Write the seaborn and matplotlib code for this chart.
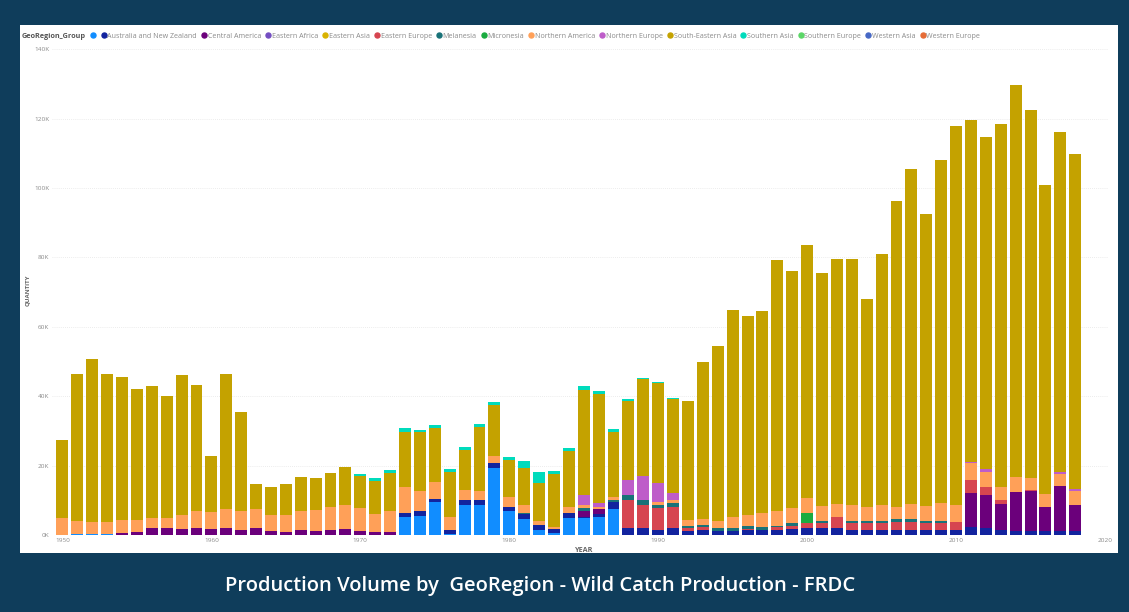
import numpy as np
import pandas as pd
import matplotlib
matplotlib.use("Agg")
import matplotlib.pyplot as plt
from matplotlib.patches import Rectangle
from matplotlib.lines import Line2D
import seaborn as sns

years = list(range(1950, 2019))

regions = ["", "Australia and New Zealand", "Central America", "Eastern Africa", "Eastern Asia",
           "Eastern Europe", "Melanesia", "Micronesia", "Northern America", "Northern Europe",
           "South-Eastern Asia", "Southern Asia", "Southern Europe", "Western Asia", "Western Europe"]

colors = ["#118DFF", "#12239E", "#6B007B", "#744EC2", "#D9B300",
          "#D64550", "#197278", "#1AAB40", "#FFA058", "#BE5DC9",
          "#C4A200", "#00DBBC", "#5BD667", "#4668C5", "#E66C37"]

# values in thousands (K), one entry per year 1950..2018
blank = [0, 0.3, 0.3, 0.3, 0, 0, 0, 0, 0, 0,
         0, 0, 0, 0, 0, 0, 0, 0, 0, 0,
         0, 0, 0, 5.3, 5.6, 9.5, 0.3, 8.6, 8.6, 19.2,
         6.8, 4.5, 1.4, 0.5, 4.8, 4.9, 5.3, 7.5, 0, 0,
         0, 0, 0, 0, 0, 0, 0, 0, 0, 0,
         0, 0, 0, 0, 0, 0, 0, 0, 0, 0,
         0, 0, 0, 0, 0, 0, 0, 0, 0]
australia = [0, 0, 0, 0, 0, 0, 0, 0, 0, 0,
             0, 0, 0, 0, 0, 0, 0, 0, 0, 0,
             0, 0, 0, 1.1, 1.2, 1.0, 1.1, 1.5, 1.5, 1.5,
             1.4, 1.5, 1.5, 1.1, 1.4, 0.4, 0.8, 2.0, 1.9, 1.9,
             1.4, 1.9, 1.2, 1.4, 1.2, 1.2, 1.4, 1.4, 1.4, 1.6,
             1.9, 1.9, 1.9, 1.4, 1.4, 1.4, 1.4, 1.4, 1.4, 1.4,
             1.4, 2.2, 1.9, 1.4, 1.2, 1.2, 1.2, 1.2, 1.2]
central_america = [0, 0, 0, 0, 0.7, 1.0, 1.9, 1.9, 1.8, 2.0,
                   1.7, 2.1, 1.5, 2.0, 1.2, 1.0, 1.3, 1.1, 1.4, 1.7,
                   1.2, 1.0, 1.0, 0, 0, 0, 0, 0, 0, 0,
                   0, 0, 0, 0, 0, 1.7, 1.3, 0, 0, 0,
                   0, 0, 0, 0, 0, 0, 0, 0, 0, 0,
                   0, 0, 0, 0, 0, 0, 0, 0, 0, 0,
                   0, 9.8, 9.6, 7.5, 11.1, 11.6, 7.0, 12.9, 7.4]
eastern_africa = [0] * 69
eastern_asia = [0] * 69
eastern_europe = [0, 0, 0, 0, 0, 0, 0, 0, 0, 0,
                  0, 0, 0, 0, 0, 0, 0, 0, 0, 0,
                  0, 0, 0, 0, 0, 0, 0, 0, 0, 0,
                  0, 0, 0, 0, 0, 0, 0, 0, 8.3, 6.7,
                  6.3, 6.3, 0.7, 0.8, 0, 0, 0.4, 0, 1.0, 1.0,
                  1.7, 1.7, 3.2, 2.0, 2.2, 2.2, 2.4, 2.4, 2.2, 2.2,
                  2.4, 3.8, 2.2, 1.2, 0.2, 0.2, 0, 0, 0]
melanesia = [0, 0, 0, 0, 0, 0, 0, 0, 0, 0,
             0, 0, 0, 0, 0, 0, 0, 0, 0, 0,
             0, 0, 0, 0, 0, 0, 0, 0, 0, 0,
             0, 0.2, 0, 0, 0, 0.7, 0, 0.5, 1.3, 1.5,
             0.9, 0.9, 0.8, 0.8, 0.8, 0.9, 0.8, 0.8, 0.2, 0.8,
             0, 0.5, 0, 0.7, 0.5, 0.5, 0.7, 0.7, 0.5, 0.5,
             0, 0, 0, 0, 0, 0, 0, 0, 0]
micronesia = [0] * 50 + [2.6] + [0] * 18
northern_america = [4.8, 3.8, 3.5, 3.5, 3.6, 3.3, 2.9, 2.9, 4.0, 5.0,
                    5.0, 5.3, 5.5, 5.4, 4.6, 4.8, 5.6, 6.1, 6.6, 7.0,
                    6.5, 5.0, 5.9, 7.5, 6.0, 4.7, 3.7, 2.9, 2.7, 2.1,
                    2.7, 2.4, 1.2, 0.8, 1.8, 0.9, 0.8, 1.0, 0, 0,
                    1.0, 0.9, 1.5, 1.5, 2.1, 3.0, 3.2, 4.2, 4.4, 4.3,
                    4.4, 4.3, 3.8, 4.5, 3.9, 4.5, 3.7, 4.4, 4.3, 5.0,
                    4.8, 5.0, 4.5, 3.6, 4.1, 3.3, 3.5, 3.5, 4.0]
northern_europe = [0, 0, 0, 0, 0, 0, 0, 0, 0, 0,
                   0, 0, 0, 0, 0, 0, 0, 0, 0, 0,
                   0, 0, 0, 0, 0, 0, 0, 0, 0, 0,
                   0, 0, 0, 0, 0, 2.9, 0.9, 0, 4.4, 6.8,
                   5.3, 2.0, 0, 0, 0, 0, 0, 0, 0, 0,
                   0, 0, 0, 0, 0, 0, 0, 0, 0, 0,
                   0, 0.3, 0.8, 0, 0, 0, 0, 0.6, 0.6]
south_eastern_asia = [22.5, 42.3, 46.8, 42.6, 41.2, 37.7, 38.2, 35.2, 40.2, 36.3,
                      16.2, 38.9, 28.5, 7.3, 7.9, 8.9, 9.8, 9.1, 9.8, 10.8,
                      9.2, 9.7, 11.1, 15.9, 16.9, 15.6, 13.1, 11.5, 18.4, 14.7,
                      10.7, 10.6, 11.0, 15.2, 16.2, 30.2, 31.5, 18.8, 22.8, 28.0,
                      29.0, 27.3, 34.3, 45.4, 50.4, 59.7, 57.3, 58.2, 72.3, 68.4,
                      73.0, 67.1, 70.6, 70.9, 60.0, 72.4, 88.1, 96.6, 84.1, 98.9,
                      109.3, 98.5, 95.7, 104.7, 113.1, 106.2, 89.2, 97.9, 96.6]
southern_asia = [0, 0, 0, 0, 0, 0, 0, 0, 0, 0,
                 0, 0, 0, 0, 0, 0, 0, 0, 0, 0,
                 0.8, 0.7, 0.7, 0.9, 0.7, 0.8, 0.8, 0.9, 0.9, 0.9,
                 0.8, 2.2, 3.1, 0.8, 1.0, 1.3, 0.8, 0.7, 0.4, 0.4,
                 0.3, 0.3, 0, 0, 0, 0, 0, 0, 0, 0,
                 0, 0, 0, 0, 0, 0, 0, 0, 0, 0,
                 0, 0, 0, 0, 0, 0, 0, 0, 0]
southern_europe = [0] * 69
western_asia = [0] * 69
western_europe = [0] * 69

series = [blank, australia, central_america, eastern_africa, eastern_asia,
          eastern_europe, melanesia, micronesia, northern_america, northern_europe,
          south_eastern_asia, southern_asia, southern_europe, western_asia, western_europe]

rows = []
for name, vals in zip(regions, series):
    for yr, v in zip(years, vals):
        rows.append({"YEAR": yr, "GeoRegion_Group": name if name else "(Blank)", "QUANTITY": v * 1000})
df = pd.DataFrame(rows)
hue_levels = [r if r else "(Blank)" for r in regions]
palette = dict(zip(hue_levels, colors))

sns.set_theme(style="white")
plt.rcParams["font.family"] = ["Open Sans", "DejaVu Sans"]

W, H = 1129, 612
fig = plt.figure(figsize=(W / 100, H / 100), dpi=100)
fig.patch.set_facecolor("#0f3d5b")
fig.add_artist(Rectangle((20 / W, 1 - 553 / H), (1118 - 20) / W, (553 - 25) / H,
                         transform=fig.transFigure, facecolor="white", edgecolor="none", zorder=0))

ax = fig.add_axes([52 / W, 1 - 535 / H, (1108 - 52) / W, (535 - 45) / H])
ax.set_facecolor("none")

# seaborn stacks the first hue level on top, so reverse to keep "(Blank)" at the bottom
sns.histplot(data=df, x="YEAR", weights="QUANTITY", hue="GeoRegion_Group",
             hue_order=hue_levels[::-1], palette=palette, multiple="stack",
             discrete=True, shrink=0.8, alpha=1, linewidth=0, edgecolor="none",
             legend=False, ax=ax)

ax.set_xlim(1949.3, 2020.2)
ax.set_ylim(0, 141200)
yt = np.arange(0, 140001, 20000)
ax.set_yticks(yt)
ax.set_yticklabels([f"{int(v/1000)}K" for v in yt])
xt = np.arange(1950, 2021, 10)
ax.set_xticks(xt)
ax.set_xticklabels([str(v) for v in xt])
ax.tick_params(axis="both", labelsize=4.6, colors="#8a8a8a", length=0, pad=2)
ax.yaxis.grid(True, color="#e6e6e6", linestyle=(0, (1, 1.5)), linewidth=0.6)
ax.set_axisbelow(True)
for s in ax.spines.values():
    s.set_visible(False)
ax.set_xlabel("")
ax.set_ylabel("")

fig.text(584 / W, 1 - 550 / H, "YEAR", fontsize=5.2, color="#666666", fontweight="bold",
         ha="center", va="center")
fig.text(27 / W, 1 - 290 / H, "QUANTITY", fontsize=4.4, color="#666666", fontweight="bold",
         ha="center", va="center", rotation=90)

fig.text(22 / W, 1 - 36 / H, "GeoRegion_Group", fontsize=5.2, color="#555555",
         fontweight="bold", ha="left", va="center")
handles = [Line2D([0], [0], marker="o", linestyle="none", markersize=3.6,
                  markerfacecolor=c, markeredgecolor=c) for c in colors]
fig.legend(handles, regions, loc="center left", bbox_to_anchor=(91 / W, 1 - 36 / H),
           ncol=len(regions), frameon=False, fontsize=5.1, handlelength=0.6,
           handletextpad=0.2, columnspacing=0.72, borderaxespad=0, borderpad=0,
           labelcolor="#8a8a8a")

fig.text(540 / W, 1 - 586 / H, "Production Volume by  GeoRegion - Wild Catch Production - FRDC",
         fontsize=14.5, color="white", ha="center", va="center", fontweight="semibold")

fig.savefig("out.png", dpi=100, facecolor=fig.get_facecolor())
